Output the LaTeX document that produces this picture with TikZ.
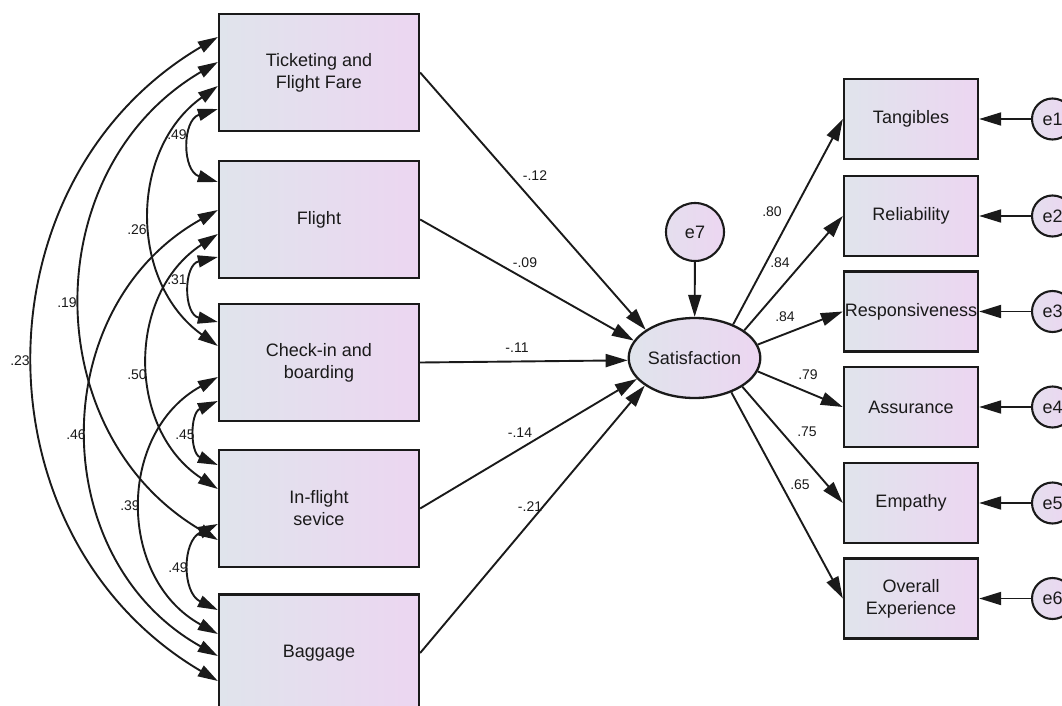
\documentclass[tikz,border=0pt]{standalone}
\usepackage{fontspec}
\setmainfont{Liberation Sans}
\usetikzlibrary{arrows.meta,shapes.geometric}
\definecolor{ink}{RGB}{26,26,26}
\definecolor{fillL}{RGB}{224,228,236}
\definecolor{fillR}{RGB}{236,214,241}
\tikzset{
  var/.style={draw=ink, line width=2.3pt, left color=fillL, right color=fillR,
    minimum width=200pt, minimum height=117pt, align=center, inner sep=0pt,
    font=\fontsize{18}{22}\selectfont, text=ink},
  ind/.style={var, minimum width=134pt, minimum height=80pt},
  lat/.style={draw=ink, line width=2.3pt, ellipse, left color=fillL, right color=fillR,
    minimum width=107pt, minimum height=80pt, inner sep=0pt,
    font=\fontsize{18}{22}\selectfont, text=ink},
  err/.style={draw=ink, circle, line width=2.1pt, left color=fillL!60!fillR, right color=fillR,
    minimum size=41pt, inner sep=0pt, font=\fontsize{18}{22}\selectfont, text=ink},
  reg/.style={draw=ink, line width=1.9pt, -{Triangle[length=22pt,width=13pt]}},
  cov/.style={draw=ink, line width=1.9pt,
    {Triangle[length=20pt,width=12pt]}-{Triangle[length=20pt,width=12pt]}},
  coef/.style={font=\fontsize{14}{16}\selectfont, text=ink, inner sep=0pt}
}
\begin{document}
\begin{tikzpicture}[x=1pt,y=-1pt]
\useasboundingbox (0,0) rectangle (1062,706);
\clip (0,0) rectangle (1062,706);

% exogenous service dimensions
\node[var] (T) at (319,72.5)  {Ticketing and\\Flight Fare};
\node[var] (F) at (319,219.5) {Flight};
\node[var] (C) at (319,362.5) {Check-in and\\boarding};
\node[var] (I) at (319,508.5) {In-flight\\sevice};
\node[var] (B) at (319,653)   {Baggage};

% latent outcome and its disturbance
\node[lat] (S) at (694.5,358) {Satisfaction};
\node[err, minimum size=58pt] (e7) at (695,232) {e7};

% indicators
\node[ind] (Tg) at (911,119)   {Tangibles};
\node[ind] (Rl) at (911,216)   {Reliability};
\node[ind] (Rs) at (911,311.5) {Responsiveness};
\node[ind] (As) at (911,407)   {Assurance};
\node[ind] (Em) at (911,503)   {Empathy};
\node[ind] (Ov) at (911,598.5) {Overall\\Experience};

\node[err] (e1) at (1052.5,119)   {e1};
\node[err] (e2) at (1052.5,216)   {e2};
\node[err] (e3) at (1052.5,311.5) {e3};
\node[err] (e4) at (1052.5,407)   {e4};
\node[err] (e5) at (1052.5,503)   {e5};
\node[err] (e6) at (1052.5,598.5) {e6};

% attachment points for the covariances
\coordinate (T1) at (T.west |- 0,37);
\coordinate (T2) at (T.west |- 0,62);
\coordinate (T3) at (T.west |- 0,86);
\coordinate (T4) at (T.west |- 0,109);
\coordinate (F1) at (F.west |- 0,182);
\coordinate (F2) at (F.west |- 0,210);
\coordinate (F3) at (F.west |- 0,234);
\coordinate (F4) at (F.west |- 0,257);
\coordinate (C1) at (C.west |- 0,322);
\coordinate (C2) at (C.west |- 0,346);
\coordinate (C3) at (C.west |- 0,377);
\coordinate (C4) at (C.west |- 0,401);
\coordinate (I1) at (I.west |- 0,465);
\coordinate (I2) at (I.west |- 0,489);
\coordinate (I3) at (I.west |- 0,524);
\coordinate (I4) at (I.west |- 0,540);
\coordinate (B1) at (B.west |- 0,610);
\coordinate (B2) at (B.west |- 0,634);
\coordinate (B3) at (B.west |- 0,656);
\coordinate (B4) at (B.west |- 0,681);

% covariances
\draw[cov] (T1) to[bend right=59.5, looseness=1.13]  (B4);
\draw[cov] (T2) to[bend right=59.6, looseness=1.13]  (I4);
\draw[cov] (T3) to[bend right=54.5, looseness=1.08]  (C2);
\draw[cov] (T4) to[bend right=73,   looseness=1.32]  (F1);
\draw[cov] (F2) to[bend right=60.8, looseness=1.14]  (B3);
\draw[cov] (F3) to[bend right=56.8, looseness=1.10]  (I2);
\draw[cov] (F4) to[bend right=77.3, looseness=1.40]  (C1);
\draw[cov] (C3) to[bend right=61.2, looseness=1.15]  (B2);
\draw[cov] (C4) to[bend right=66.5, looseness=1.22]  (I1);
\draw[cov] (I3) to[bend right=64.2, looseness=1.19]  (B1);

\node[coef] (r1)  at (20,361)  {.23};
\node[coef] (r2)  at (67,303)  {.19};
\node[coef] (r3)  at (137,230) {.26};
\node[coef] (r4)  at (177,135) {.49};
\node[coef] (r5)  at (76,435)  {.46};
\node[coef] (r6)  at (137,375) {.50};
\node[coef] (r7)  at (177,280) {.31};
\node[coef] (r8)  at (130,506) {.39};
\node[coef] (r9)  at (185,435) {.45};
\node[coef] (r10) at (178,568) {.49};

% structural paths
\draw[reg] (T.east) -- (S.150.7);
\draw[reg] (F.east) -- (S.164);
\draw[reg] (C.east) -- (S.182);
\draw[reg] (I.east) -- (S.200);
\draw[reg] (B.east) -- (S.209);
\draw[reg] (e7) -- (S);

\node[coef] (p1) at (535,176) {-.12};
\node[coef] (p2) at (525,263) {-.09};
\node[coef] (p3) at (517,348) {-.11};
\node[coef] (p4) at (520,433) {-.14};
\node[coef] (p5) at (530,507) {-.21};

% measurement paths
\draw[reg] (S.41)  -- (Tg.west);
\draw[reg] (S.29)  -- (Rl.west);
\draw[reg] (S.12)  -- (Rs.west);
\draw[reg] (S.-12) -- (As.west);
\draw[reg] (S.-31) -- (Em.west);
\draw[reg] (S.-43) -- (Ov.west);

\node[coef] (m1) at (772,212) {.80};
\node[coef] (m2) at (780,263) {.84};
\node[coef] (m3) at (785,317) {.84};
\node[coef] (m4) at (808,375) {.79};
\node[coef] (m5) at (807,432) {.75};
\node[coef] (m6) at (800,485) {.65};

\draw[reg] (e1) -- (Tg);
\draw[reg] (e2) -- (Rl);
\draw[reg] (e3) -- (Rs);
\draw[reg] (e4) -- (As);
\draw[reg] (e5) -- (Em);
\draw[reg] (e6) -- (Ov);
\end{tikzpicture}
\end{document}
